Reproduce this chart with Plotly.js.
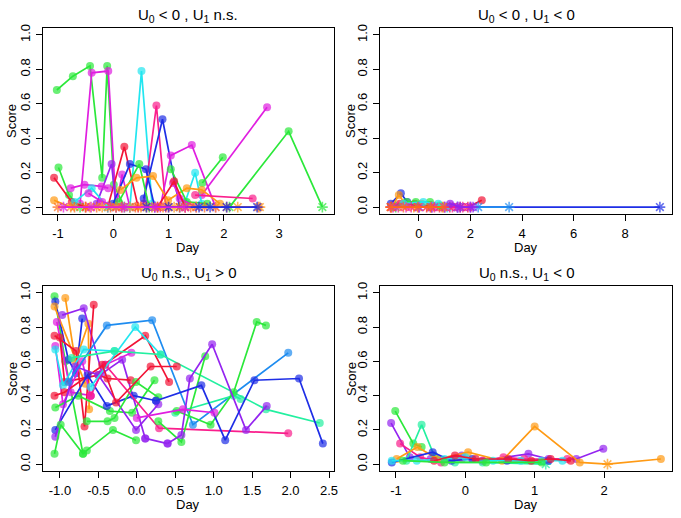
<!DOCTYPE html>
<html><head><meta charset="utf-8">
<script src="https://cdn.plot.ly/plotly-3.0.1.min.js"></script>
<style>html,body{margin:0;padding:0;background:#fff}#chart{width:681px;height:518px}</style>
</head><body><div id="chart"></div>
<script>
// colour codes
const palette = {G:'#2BE83A', M:'#E01EE0', C:'#22E6F0', R:'#F21436', O:'#FF9A14', B:'#1E2EE6',
                 P:'#9424F0', K:'#FA1E8C', S:'#1E8CF0', Q:'#22F0A0', X:'#FF6A1A'};

// Panel 1: U0 < 0 , U1 n.s.
const p1Col = ['G','M','C','K','B','R','P','M','M','G','G','C','B','G','O','G','R','M','C','M','G','M','R','K','O','X','B','M'];
const p1X = [
  [-1.02,-0.73,-0.42,-0.2,-0.11,0.01,0.2],
  [-0.6,-0.39,-0.09,0.05,0.16,0.3],
  [0.3,0.51,0.7],
  [0.55,0.78,0.95],
  [0.55,0.89,1.2],
  [-0.1,0.2,0.45],
  [-0.3,-0.03,0.05],
  [0.85,1.04,1.42,1.85],
  [1.6,2.78],
  [2.1,3.17,3.78],
  [1.61,1.98],
  [1.3,1.48,1.6],
  [0.0,0.3,0.59,0.75],
  [0.1,0.47,0.65],
  [0.13,0.42,0.72,0.99,1.33,1.6,1.93],
  [-0.99,-0.8,-0.6],
  [-1.07,-0.75,-0.5],
  [-0.77,-0.52,-0.21,-0.09],
  [-0.7,-0.39,-0.1],
  [-0.45,-0.2,0.16],
  [1.04,1.33,1.7],
  [1.08,1.2,1.5],
  [0.8,1.1,1.3],
  [1.48,2.52],
  [-1.07,-0.77,-0.42,-0.2,0.05,0.3,0.5,0.7,0.9,1.1,1.3,1.5,1.85,2.25,2.65],
  [-1.0,-0.7,-0.5,-0.3,-0.05,0.15,0.4,0.6,0.8,1.0,1.2,1.4,1.65,2.05,2.62],
  [0.6,1.0,1.55,1.75,2.05,2.6],
  [-0.9,-0.4,0.2,0.75,1.3]
];
const p1Y = [
  [0.68,0.76,0.82,0.17,0.82,0.13,0.0],
  [0.02,0.78,0.79,0.0,0.19,0.0],
  [0.0,0.79,0.02],
  [0.02,0.59,0.0],
  [0.05,0.51,0.0],
  [0.0,0.35,0.0],
  [0.02,0.25,0.0],
  [0.0,0.30,0.36,0.0],
  [0.07,0.58],
  [0.0,0.44,0.0],
  [0.14,0.29],
  [0.03,0.20,0.02],
  [0.02,0.25,0.22,0.0],
  [0.03,0.25,0.0],
  [0.10,0.17,0.18,0.04,0.11,0.10,0.02],
  [0.23,0.07,0.0],
  [0.17,0.03,0.0],
  [0.11,0.13,0.12,0.11],
  [0.03,0.11,0.0],
  [0.08,0.03,0.0],
  [0.22,0.03,0.02],
  [0.14,0.05,0.0],
  [0.0,0.15,0.0],
  [0.07,0.05],
  [0.04,0,0,0,0,0,0,0,0,0,0,0,0,0,0],
  [0,0,0,0,0,0,0,0,0,0,0,0,0,0,0],
  [0,0,0,0,0,0],
  [0,0,0,0,0]
];

// Panel 2: U0 < 0 , U1 < 0
const p2Col = ['B','O','R','G','C','S','M','K','P','X'];
const p2X = [
  [-1.09,-0.7,-0.45,0.0,0.5,1.0,1.5,2.0,9.35],
  [-1.05,-0.78,-0.48,-0.2,0.10,0.45,0.9],
  [-1.09,-0.74,-0.16,0.3,0.8,1.2,1.6,1.9,2.44],
  [-0.9,-0.48,-0.12,0.43,0.8],
  [-0.6,0.17,0.75,1.1],
  [1.5,2.3,3.5],
  [-1.0,-0.5,0.0,0.5,1.0,1.5,2.0],
  [-0.8,-0.3,0.6,1.3,1.7],
  [1.21,1.6,2.1],
  [-1.1,-0.6,-0.05,0.45,0.95]
];
const p2Y = [
  [0.02,0.08,0.03,0,0,0,0,0,0],
  [0,0.07,0.01,0,0.02,0,0],
  [0,0.02,0.02,0,0,0,0,0,0.04],
  [0,0.03,0.03,0.03,0.01],
  [0.02,0.03,0.02,0],
  [0,0,0],
  [0,0,0,0,0,0,0],
  [0,0,0,0,0],
  [0.02,0,0],
  [0,0,0,0,0]
];

// Panel 3: U0 n.s., U1 > 0
const p3Col = ['G','B','O','O','P','M','R','R','M','C','R','G','B','P','G','G','K','S','C','Q','Q','R','G','G','P','B','M','P'];
const p3X = [
  [-1.07,-0.93,-0.7],
  [-1.06,-0.89,-0.79,-0.71],
  [-1.07,-0.67],
  [-0.93,-0.8,-0.63,-0.62],
  [-0.97,-0.69,-0.45,-0.19,0.11],
  [-1.04,-0.86,-0.6,-0.41,-0.07],
  [-1.07,-0.79,-0.68,-0.56],
  [-1.0,-0.94,-0.5,-0.38,-0.08],
  [-1.06,-0.96,-0.71,-0.6],
  [-1.06,-0.96,-0.69,-0.29],
  [-1.07,-0.94,0.11,0.42],
  [-1.06,-0.76,-0.35,-0.06,0.23],
  [-1.06,-0.64,-0.39,-0.04,0.25],
  [-1.06,-0.8,-0.5,-0.01,0.28],
  [-1.07,-0.99,-0.7,-0.65,-0.31,-0.01],
  [-0.65,-0.38,-0.29,-0.01,0.28],
  [-0.6,-0.41,0.29,1.97],
  [-0.89,-0.39,0.2,0.73,1.97],
  [-0.6,-0.02,0.31],
  [-0.85,-0.29,0.31,1.68,2.38],
  [0.5,1.26,1.35],
  [-0.45,-0.27,0.18,0.52],
  [0.28,0.58,0.89],
  [0.52,0.96,1.26,1.56,1.68],
  [0.40,0.58,0.69,0.98,1.42,1.69],
  [0.25,0.84,1.15,1.53,2.11,2.42],
  [0.0,0.6,1.01],
  [0.11,0.40]
];
const p3Y = [
  [0.98,0.60,0.06],
  [0.95,0.61,0.53,0.85],
  [0.92,0.47],
  [0.97,0.60,0.82,0.32],
  [0.87,0.91,0.53,0.61,0.15],
  [0.83,0.42,0.40,0.58,0.65],
  [0.75,0.66,0.22,0.93],
  [0.74,0.48,0.52,0.50,0.49],
  [0.69,0.35,0.60,0.40],
  [0.67,0.46,0.67,0.66],
  [0.40,0.42,0.75,0.48],
  [0.33,0.40,0.31,0.30,0.49],
  [0.20,0.52,0.34,0.40,0.37],
  [0.16,0.57,0.52,0.20,0.35],
  [0.06,0.23,0.06,0.08,0.20,0.14],
  [0.25,0.25,0.27,0.48,0.39],
  [0.40,0.58,0.21,0.18],
  [0.48,0.81,0.84,0.23,0.65],
  [0.45,0.80,0.64],
  [0.62,0.66,0.64,0.32,0.24],
  [0.30,0.40,0.38],
  [0.58,0.36,0.57,0.57],
  [0.25,0.13,0.63],
  [0.31,0.23,0.42,0.83,0.81],
  [0.12,0.17,0.50,0.70,0.20,0.34],
  [0.37,0.46,0.14,0.49,0.50,0.12],
  [0.27,0.32,0.30],
  [0.15,0.12]
];

// Panel 4: U0 n.s., U1 < 0
const p4Col = ['G','P','K','Q','O','B','C','R','G'];
const p4X = [
  [-1.01,-0.75,-0.63],
  [-1.07,-0.8,-0.5,-0.05,0.25,0.91,1.2,1.6,1.99],
  [-0.94,-0.65,-0.35,-0.05,0.25,0.55,0.85,1.47],
  [-0.85,-0.63,-0.45,-0.15,0.25,1.16],
  [-0.99,-0.69,-0.4,0.04,0.53,1.0,1.65,2.05,2.82],
  [-1.06,-0.47,-0.2,0.1,0.6,1.2],
  [-1.06,-0.7,-0.3,0.0,0.4,0.8,1.1,1.4],
  [-0.45,-0.15,0.15,0.62,0.95,1.23,1.52],
  [-0.9,-0.3,0.3,1.1]
];
const p4Y = [
  [0.31,0.12,0.10],
  [0.24,0.04,0.03,0.05,0.02,0.06,0.03,0.03,0.09],
  [0.12,0.04,0.01,0.03,0.02,0.04,0.03,0.03],
  [0.02,0.23,0.05,0.01,0.01,0.0],
  [0.03,0.10,0.03,0.07,0.02,0.22,0.01,0.0,0.03],
  [0.01,0.07,0.02,0.03,0.02,0.02],
  [0.02,0.02,0.03,0.04,0.02,0.02,0.02,0.02],
  [0.02,0.05,0.03,0.03,0.02,0.03,0.02],
  [0.02,0.01,0.01,0.01]
];

// ticks
const yTickVals = [0,0.2,0.4,0.6,0.8,1.0];
const yTickText = ['0.0','0.2','0.4','0.6','0.8','1.0'];
const x1TickVals = [-1,0,1,2,3];
const x1TickText = ['-1','0','1','2','3'];
const x2TickVals = [0,2,4,6,8];
const x2TickText = ['0','2','4','6','8'];
const x3TickVals = [-1,-0.5,0,0.5,1,1.5,2,2.5];
const x3TickText = ['-1.0','-0.5','0.0','0.5','1.0','1.5','2.0','2.5'];
const x4TickVals = [-1,0,1,2];
const x4TickText = ['-1','0','1','2'];

const titles = ['U<sub>0</sub> &lt; 0 , U<sub>1</sub> n.s.', 'U<sub>0</sub> &lt; 0 , U<sub>1</sub> &lt; 0',
                'U<sub>0</sub> n.s., U<sub>1</sub> &gt; 0', 'U<sub>0</sub> n.s., U<sub>1</sub> &lt; 0'];

const W = 681, H = 518;
const traces = [];
function addPanel(cols, xs, ys, xa, ya) {
  for (let i = 0; i < xs.length; i++) {
    const c = palette[cols[i]];
    const y = ys[i];
    traces.push({
      type: 'scatter', mode: 'lines+markers', x: xs[i], y: y, xaxis: xa, yaxis: ya,
      showlegend: false, hoverinfo: 'skip', cliponaxis: true,
      line: {color: c, width: 1.7},
      marker: {
        color: c,
        size: y.map(v => v === 0 ? 9 : 8),
        symbol: y.map(v => v === 0 ? 'asterisk-open' : 'circle'),
        line: {color: c, width: y.map(v => v === 0 ? 1.6 : 0)}
      }
    });
  }
}
addPanel(p1Col, p1X, p1Y, 'x', 'y');
addPanel(p2Col, p2X, p2Y, 'x2', 'y2');
addPanel(p3Col, p3X, p3Y, 'x3', 'y3');
addPanel(p4Col, p4X, p4Y, 'x4', 'y4');

const font = {family: 'Liberation Sans, Arial, Helvetica, sans-serif', size: 13, color: '#000'};
function xax(dom, range, tv, tt, anchor) {
  return {domain: dom, range: range, tickvals: tv, ticktext: tt, anchor: anchor,
    showline: true, linecolor: '#000', linewidth: 1.2, mirror: true, ticks: 'outside', ticklen: 6,
    tickwidth: 1, tickcolor: '#000', showgrid: false, zeroline: false, tickfont: font,
    ticklabelstandoff: 1, fixedrange: true};
}
function yax(dom, anchor) {
  return {domain: dom, range: [-0.04, 1.04], tickvals: yTickVals, ticktext: yTickText, anchor: anchor,
    showline: true, linecolor: '#000', linewidth: 1.2, mirror: true, ticks: 'outside', ticklen: 6,
    tickwidth: 1, tickcolor: '#000', showgrid: false, zeroline: false, tickfont: font, tickangle: -90,
    ticklabelstandoff: 1, fixedrange: true};
}
const xL = [43/W, 334/W], xR = [380/W, 672/W];
const yT = [1 - 214/H, 1 - 28/H], yB = [1 - 471/H, 1 - 286/H];

const ann = [];
function txt(x, y, text, size, angle) {
  ann.push({xref: 'paper', yref: 'paper', x: x/W, y: 1 - y/H, text: text, showarrow: false,
    xanchor: 'center', yanchor: 'middle', textangle: angle || 0,
    font: {family: font.family, size: size, color: '#000'}});
}
txt(188, 15, titles[0], 15); txt(526, 15, titles[1], 15);
txt(188, 273, titles[2], 15); txt(526, 273, titles[3], 15);
txt(188, 247, 'Day', 13); txt(526, 247, 'Day', 13);
txt(188, 504, 'Day', 13); txt(526, 504, 'Day', 13);
txt(12, 121, 'Score', 13, -90); txt(351, 121, 'Score', 13, -90);
txt(12, 379, 'Score', 13, -90); txt(351, 379, 'Score', 13, -90);

const layout = {
  width: W, height: H, margin: {l: 0, r: 0, t: 0, b: 0},
  paper_bgcolor: '#fff', plot_bgcolor: '#fff', font: font,
  xaxis: xax(xL, [-1.27, 3.99], x1TickVals, x1TickText, 'y'),
  yaxis: yax(yT, 'x'),
  xaxis2: xax(xR, [-1.51, 9.82], x2TickVals, x2TickText, 'y2'),
  yaxis2: yax(yT, 'x2'),
  xaxis3: xax(xL, [-1.22, 2.565], x3TickVals, x3TickText, 'y3'),
  yaxis3: yax(yB, 'x3'),
  xaxis4: xax(xR, [-1.23, 2.98], x4TickVals, x4TickText, 'y4'),
  yaxis4: yax(yB, 'x4'),
  annotations: ann
};
Plotly.newPlot('chart', traces, layout, {staticPlot: true, displayModeBar: false});
</script></body></html>
